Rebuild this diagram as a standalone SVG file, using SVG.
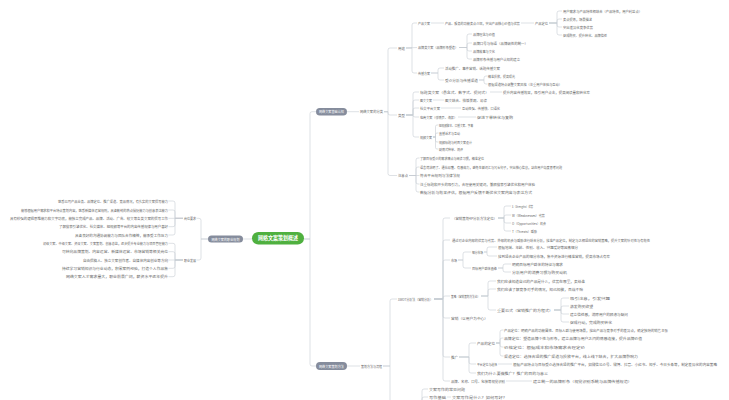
<svg xmlns="http://www.w3.org/2000/svg" width="729" height="400" viewBox="0 0 729 400">
<style>
.c{fill:none;stroke:#c8ccd3;stroke-width:0.6}
text{font-family:"Noto Sans CJK SC","Noto Sans",sans-serif;dominant-baseline:central}
.t{font-size:3.3px;fill:#666666}
.m{text-anchor:middle}
.g{fill:#858c9c}
.w{fill:#ffffff;font-size:3.2px}
</style>
<rect width="729" height="400" fill="#ffffff"/>
<g id="connectors">
<path class="c" d="M252 239 H243"/>
<path class="c" d="M208 239 H201 V220.3 Q201 218.3 199 218.3 H196.5"/>
<path class="c" d="M208 239 H201 V258 Q201 260 199 260 H196.5"/>
<path class="c" d="M183 218.3 H175 V203 Q175 201 173 201 H168.5"/>
<path class="c" d="M183 218.3 H175 V212 Q175 210 173 210 H168.5"/>
<path class="c" d="M183 218.3 H168.5"/>
<path class="c" d="M183 218.3 H175 V224.7 Q175 226.7 173 226.7 H168.5"/>
<path class="c" d="M183 218.3 H175 V233 Q175 235 173 235 H168.5"/>
<path class="c" d="M183 260 H175 V245.3 Q175 243.3 173 243.3 H168.5"/>
<path class="c" d="M183 260 H175 V253.7 Q175 251.7 173 251.7 H168.5"/>
<path class="c" d="M183 260 H168.5"/>
<path class="c" d="M183 260 H175 V266.3 Q175 268.3 173 268.3 H168.5"/>
<path class="c" d="M183 260 H175 V274.7 Q175 276.7 173 276.7 H168.5"/>
<path class="c" d="M304 239 H310 V113.7 Q310 111.7 312 111.7 H316"/>
<path class="c" d="M304 239 H310 V364 Q310 366 312 366 H316"/>
<path class="c" d="M347 111.7 H359"/>
<path class="c" d="M384 111.7 H388 V50 Q388 48 390 48 H397"/>
<path class="c" d="M384 111.7 H388 V113 Q388 115 390 115 H397"/>
<path class="c" d="M384 111.7 H388 V173.5 Q388 175.5 390 175.5 H397"/>
<path class="c" d="M406 48 H412 V25 Q412 23 414 23 H417"/>
<path class="c" d="M406 48 L417 47.5"/>
<path class="c" d="M406 48 H412 V71 Q412 73 414 73 H417"/>
<path class="c" d="M431 23 H444"/>
<path class="c" d="M521 23 H534"/>
<path class="c" d="M549 23 H557 V13 Q557 11 559 11 H562"/>
<path class="c" d="M549 23 H557 V21 Q557 19 559 19 H562"/>
<path class="c" d="M549 23 H557 V25 Q557 27 559 27 H562"/>
<path class="c" d="M549 23 H557 V33 Q557 35 559 35 H562"/>
<path class="c" d="M459 47.5 H467 V36 Q467 34 469 34 H472"/>
<path class="c" d="M459 47.5 H467 V45 Q467 43 469 43 H472"/>
<path class="c" d="M459 47.5 H467 V49 Q467 51 469 51 H472"/>
<path class="c" d="M459 47.5 H467 V57 Q467 59 469 59 H472"/>
<path class="c" d="M431 73 H438 V70 Q438 68 440 68 H444"/>
<path class="c" d="M431 73 H438 V78 Q438 80 440 80 H444"/>
<path class="c" d="M479 80 H484 V78 Q484 76 486 76 H487.5"/>
<path class="c" d="M479 80 H484 V82 Q484 84 486 84 H487.5"/>
<path class="c" d="M406 115 H413 V94 Q413 92 415 92 H419"/>
<path class="c" d="M406 115 H413 V102 Q413 100 415 100 H419"/>
<path class="c" d="M406 115 H413 V110 Q413 108 415 108 H419"/>
<path class="c" d="M406 115 H413 Q413 117 415 117 H419"/>
<path class="c" d="M406 115 H413 V135 Q413 137 415 137 H419"/>
<path class="c" d="M490 92 H502"/>
<path class="c" d="M433 100 H444"/>
<path class="c" d="M441 108 H461"/>
<path class="c" d="M458 117 H476"/>
<path class="c" d="M433 137 H435.5 V126.5 Q435.5 125 437 125 H438.5"/>
<path class="c" d="M433 137 H435.5 V134.5 Q435.5 133 437 133 H438.5"/>
<path class="c" d="M433 137 H435.5 V140.5 Q435.5 142 437 142 H438.5"/>
<path class="c" d="M433 137 H435.5 V147.5 Q435.5 149 437 149 H438.5"/>
<path class="c" d="M409 175.5 H416 V160 Q416 158 418 158 H419.5"/>
<path class="c" d="M409 175.5 H416 V169 Q416 167 418 167 H419.5"/>
<path class="c" d="M409 175.5 H419.5"/>
<path class="c" d="M409 175.5 H416 V182 Q416 184 418 184 H419.5"/>
<path class="c" d="M409 175.5 H416 V190 Q416 192 418 192 H419.5"/>
<path class="c" d="M347 366 H360"/>
<path class="c" d="M383 366 H390 V301 Q390 299 392 299 H397"/>
<path class="c" d="M383 366 H390 V413 Q390 415 392 415 H397"/>
<path class="c" d="M416 415 H422 V391 Q422 389 424 389 H428"/>
<path class="c" d="M416 415 H422 V399 Q422 397 424 397 H428"/>
<path class="c" d="M447 397 H451"/>
<path class="c" d="M434 299 H443 V220 Q443 218 445 218 H450"/>
<path class="c" d="M434 299 H443 V242 Q443 240 445 240 H450"/>
<path class="c" d="M434 299 H443 V262 Q443 260 445 260 H450"/>
<path class="c" d="M434 299 H443 V298 Q443 296 445 296 H450"/>
<path class="c" d="M434 299 H443 V316 Q443 318 445 318 H450"/>
<path class="c" d="M434 299 H443 V355 Q443 357 445 357 H450"/>
<path class="c" d="M434 299 H443 V379 Q443 381 445 381 H450"/>
<path class="c" d="M498 218 H504 V208 Q504 206 506 206 H511"/>
<path class="c" d="M498 218 H504 V217 Q504 215 506 215 H511"/>
<path class="c" d="M498 218 H504 V221 Q504 223 506 223 H511"/>
<path class="c" d="M498 218 H504 V229 Q504 231 506 231 H511"/>
<path class="c" d="M458 260 H463 V254 Q463 252 465 252 H471"/>
<path class="c" d="M458 260 H463 V266 Q463 268 465 268 H471"/>
<path class="c" d="M484 252 H487 V249 Q487 247 489 247 H497"/>
<path class="c" d="M484 252 H487 V254 Q487 256 489 256 H497"/>
<path class="c" d="M498 268 H503 V266 Q503 264 505 264 H511"/>
<path class="c" d="M498 268 H503 V270 Q503 272 505 272 H511"/>
<path class="c" d="M481 296 H488 V283 Q488 281 490 281 H496"/>
<path class="c" d="M481 296 H488 V291 Q488 289 490 289 H496"/>
<path class="c" d="M481 296 H488 V308 Q488 310 490 310 H496"/>
<path class="c" d="M554 310 H561 V300 Q561 298 563 298 H569"/>
<path class="c" d="M554 310 H561 V308 Q561 306 563 306 H569"/>
<path class="c" d="M554 310 H561 V312 Q561 314 563 314 H569"/>
<path class="c" d="M554 310 H561 V320 Q561 322 563 322 H569"/>
<path class="c" d="M459 357 H469 V345 Q469 343 471 343 H476"/>
<path class="c" d="M459 357 H469 V362 Q469 364 471 364 H476"/>
<path class="c" d="M459 357 H469 V371 Q469 373 471 373 H476"/>
<path class="c" d="M496 343 H500 V332 Q500 330 502 330 H503.5"/>
<path class="c" d="M496 343 H500 V340 Q500 338 502 338 H503.5"/>
<path class="c" d="M496 343 H500 V345 Q500 347 502 347 H503.5"/>
<path class="c" d="M496 343 H500 V354 Q500 356 502 356 H503.5"/>
<path class="c" d="M498 364 H512"/>
<path class="c" d="M506 381 H532"/>
</g>
<g id="root"><rect x="252" y="232" width="52" height="12.5" rx="6.25" fill="#4fb03f"/><text x="278" y="238.3" class="m" font-size="5.4" font-weight="bold" fill="#ffffff" textLength="40" lengthAdjust="spacingAndGlyphs">网络文案策划概述</text></g>
<g id="career"><rect x="208" y="235.5" width="35" height="7" rx="3.5" class="g"/><text x="225.5" y="239" class="w m" textLength="28" lengthAdjust="spacingAndGlyphs">网络文案的职业规划</text></g>
<g id="req"><text x="184" y="218.3" class="t" textLength="12" lengthAdjust="spacingAndGlyphs">岗位要求</text></g>
<g id="req1"><text x="58" y="201" class="t" textLength="110" lengthAdjust="spacingAndGlyphs">熟悉公司产品业务、品牌定位、推广渠道、竞品情况，有扎实的文案撰写能力</text></g>
<g id="req2"><text x="21" y="210" class="t" textLength="147" lengthAdjust="spacingAndGlyphs">能够根据用户需求和平台特点策划内容，熟悉新媒体运营规则，具备敏锐的热点捕捉能力与创意表达能力</text></g>
<g id="req3"><text x="10" y="218.3" class="t" textLength="158" lengthAdjust="spacingAndGlyphs">具有较强的逻辑思维能力和文字功底，能独立完成产品、品牌、活动、广告、软文等各类文案的撰写工作</text></g>
<g id="req4"><text x="59" y="226.7" class="t" textLength="109" lengthAdjust="spacingAndGlyphs">了解搜索引擎优化、社交媒体、短视频等平台的内容传播规律与用户喜好</text></g>
<g id="req5"><text x="75" y="235" class="t" textLength="93" lengthAdjust="spacingAndGlyphs">具备良好的沟通协调能力与团队合作精神，能承受工作压力</text></g>
<g id="dev"><text x="184" y="260" class="t" textLength="12" lengthAdjust="spacingAndGlyphs">职业发展</text></g>
<g id="dev1"><text x="43" y="243.3" class="t" textLength="125" lengthAdjust="spacingAndGlyphs">初级文案、中级文案、资深文案、文案策划、创意总监，逐步提升专业能力与项目管理能力</text></g>
<g id="dev2"><text x="62" y="251.7" class="t" textLength="106" lengthAdjust="spacingAndGlyphs">可转向品牌策划、内容运营、新媒体运营、市场营销等相关岗位</text></g>
<g id="dev3"><text x="83" y="260" class="t" textLength="85" lengthAdjust="spacingAndGlyphs">自由撰稿人、独立文案创作者、自媒体内容创业等方向</text></g>
<g id="dev4"><text x="62" y="268.3" class="t" textLength="106" lengthAdjust="spacingAndGlyphs">持续学习营销知识与行业动态，积累案例经验，打造个人作品集</text></g>
<g id="dev5"><text x="66" y="276.7" class="t" textLength="102" lengthAdjust="spacingAndGlyphs">网络文案人才需求量大，职业前景广阔，薪资水平逐年提升</text></g>
<g id="basic"><rect x="316" y="108" width="31" height="7.5" rx="3.75" class="g"/><text x="331.5" y="111.8" class="w m" textLength="25" lengthAdjust="spacingAndGlyphs">网络文案基础认知</text></g>
<g id="t0"><text x="360" y="111.7" class="t" textLength="23" lengthAdjust="spacingAndGlyphs">网络文案的分类</text></g>
<g id="t1"><text x="398" y="48" class="t" textLength="7" lengthAdjust="spacingAndGlyphs">用途</text></g>
<g id="t1a"><text x="418" y="23" class="t" textLength="12" lengthAdjust="spacingAndGlyphs">产品文案</text></g>
<g id="t1a1"><text x="445" y="23" class="t" textLength="75" lengthAdjust="spacingAndGlyphs">产品、服务的功能卖点介绍，突出产品核心价值与优势</text></g>
<g id="t1a2"><text x="535" y="23" class="t" textLength="13" lengthAdjust="spacingAndGlyphs">产品定位</text></g>
<g id="t1a2a"><text x="563" y="11" class="t" textLength="79" lengthAdjust="spacingAndGlyphs">用户需求与产品特性相结合（产品特性，用户利益点）</text></g>
<g id="t1a2b"><text x="563" y="19" class="t" textLength="29" lengthAdjust="spacingAndGlyphs">卖点提炼，场景描述</text></g>
<g id="t1a2c"><text x="563" y="27" class="t" textLength="30" lengthAdjust="spacingAndGlyphs">突出差异化竞争优势</text></g>
<g id="t1a2d"><text x="563" y="35" class="t" textLength="44" lengthAdjust="spacingAndGlyphs">促成购买、提升转化、品牌信任</text></g>
<g id="t1b"><text x="418" y="47.5" class="t" textLength="40" lengthAdjust="spacingAndGlyphs">品牌类文案（品牌形象塑造）</text></g>
<g id="t1b1"><text x="473" y="34" class="t" textLength="22" lengthAdjust="spacingAndGlyphs">品牌理念与价值</text></g>
<g id="t1b2"><text x="473" y="43" class="t" textLength="55" lengthAdjust="spacingAndGlyphs">品牌口号与标语（品牌调性的统一）</text></g>
<g id="t1b3"><text x="473" y="51" class="t" textLength="22" lengthAdjust="spacingAndGlyphs">品牌故事与文化</text></g>
<g id="t1b4"><text x="473" y="59" class="t" textLength="47" lengthAdjust="spacingAndGlyphs">品牌形象传播与用户认知的建立</text></g>
<g id="t1c"><text x="418" y="73" class="t" textLength="12" lengthAdjust="spacingAndGlyphs">传播方案</text></g>
<g id="t1c1"><text x="445" y="68" class="t" textLength="55" lengthAdjust="spacingAndGlyphs">活动推广、事件营销、话题传播文案</text></g>
<g id="t1c2"><text x="445" y="80" class="t" textLength="33" lengthAdjust="spacingAndGlyphs">受众分析与传播渠道</text></g>
<g id="t1c2a"><text x="488" y="76" class="t" textLength="27" lengthAdjust="spacingAndGlyphs">精准投放，提高曝光</text></g>
<g id="t1c2b"><text x="488" y="84" class="t" textLength="74" lengthAdjust="spacingAndGlyphs">根据渠道特点调整文案风格（注重用户体验与互动）</text></g>
<g id="t2"><text x="398" y="115" class="t" textLength="7" lengthAdjust="spacingAndGlyphs">类型</text></g>
<g id="t2a"><text x="420" y="92" class="t" textLength="69" lengthAdjust="spacingAndGlyphs">标题类文案（悬念式、数字式、提问式）</text></g>
<g id="t2a1"><text x="503" y="92" class="t" textLength="87" lengthAdjust="spacingAndGlyphs">提升内容传播效果，吸引用户点击，提高阅读量和转化率</text></g>
<g id="t2b"><text x="420" y="100" class="t" textLength="12" lengthAdjust="spacingAndGlyphs">图文文案</text></g>
<g id="t2b1"><text x="445" y="100" class="t" textLength="42" lengthAdjust="spacingAndGlyphs">图文结合、排版美观、易读</text></g>
<g id="t2c"><text x="420" y="108" class="t" textLength="20" lengthAdjust="spacingAndGlyphs">社交平台文案</text></g>
<g id="t2c1"><text x="462" y="108" class="t" textLength="38" lengthAdjust="spacingAndGlyphs">互动性强、传播快、口语化</text></g>
<g id="t2d"><text x="420" y="117" class="t" textLength="37" lengthAdjust="spacingAndGlyphs">电商文案（详情页、海报）</text></g>
<g id="t2d1"><text x="477" y="117" class="t" textLength="36" lengthAdjust="spacingAndGlyphs">促进下单转化与复购</text></g>
<g id="t2e"><text x="420" y="137" class="t" textLength="12" lengthAdjust="spacingAndGlyphs">视频文案</text></g>
<g id="t2e1"><text x="439" y="125" class="t" textLength="34" lengthAdjust="spacingAndGlyphs">短视频脚本、口播文案、字幕</text></g>
<g id="t2e2"><text x="439" y="133" class="t" textLength="21" lengthAdjust="spacingAndGlyphs">直播话术与互动</text></g>
<g id="t2e3"><text x="439" y="142" class="t" textLength="33" lengthAdjust="spacingAndGlyphs">视频标题与封面文案设计</text></g>
<g id="t2e4"><text x="439" y="149" class="t" textLength="24" lengthAdjust="spacingAndGlyphs">剧情式种草、测评</text></g>
<g id="t3"><text x="398" y="175.5" class="t" textLength="10" lengthAdjust="spacingAndGlyphs">注意点</text></g>
<g id="t3a"><text x="420" y="158" class="t" textLength="64" lengthAdjust="spacingAndGlyphs">了解目标受众的需求痛点与阅读习惯，精准定位</text></g>
<g id="t3b"><text x="420" y="167" class="t" textLength="142" lengthAdjust="spacingAndGlyphs">语言简洁明了、通俗易懂、有感染力，避免生僻词汇与冗长句子，突出核心信息，站在用户角度思考问题</text></g>
<g id="t3c"><text x="420" y="175.5" class="t" textLength="40" lengthAdjust="spacingAndGlyphs">符合平台规则与法律法规</text></g>
<g id="t3d"><text x="420" y="184" class="t" textLength="115" lengthAdjust="spacingAndGlyphs">注重标题和开头的吸引力，合理使用关键词，兼顾搜索引擎优化和用户体验</text></g>
<g id="t3e"><text x="420" y="192" class="t" textLength="112" lengthAdjust="spacingAndGlyphs">数据分析与效果评估，根据用户反馈不断优化文案内容与表达方式</text></g>
<g id="plan"><rect x="316" y="362" width="31" height="8" rx="4" class="g"/><text x="331.5" y="366" class="w m" textLength="25" lengthAdjust="spacingAndGlyphs">网络文案策划方法</text></g>
<g id="b0"><text x="361" y="366" class="t" textLength="21" lengthAdjust="spacingAndGlyphs">策划方法与流程</text></g>
<g id="b1"><text x="398" y="299" class="t" textLength="35" lengthAdjust="spacingAndGlyphs">SWOT分析法（营销分析）</text></g>
<g id="b1a"><text x="452" y="218" class="t" textLength="45" lengthAdjust="spacingAndGlyphs">（营销策划4P分析方法定位）</text></g>
<g id="b1a1"><text x="512" y="206" class="t" textLength="21" lengthAdjust="spacingAndGlyphs">S（Strengths）优势</text></g>
<g id="b1a2"><text x="512" y="215" class="t" textLength="33" lengthAdjust="spacingAndGlyphs">W（Weaknesses）劣势</text></g>
<g id="b1a3"><text x="512" y="223" class="t" textLength="34" lengthAdjust="spacingAndGlyphs">O（Opportunities）机会</text></g>
<g id="b1a4"><text x="512" y="231" class="t" textLength="25" lengthAdjust="spacingAndGlyphs">T（Threats）威胁</text></g>
<g id="b1b"><text x="452" y="240" class="t" textLength="198" lengthAdjust="spacingAndGlyphs">通过对企业内部的优势与劣势、外部的机会与威胁进行综合分析，找准产品定位，制定与之相适应的营销策略，提升文案的针对性与有效性</text></g>
<g id="b1c"><text x="451" y="260" class="t" textLength="6" lengthAdjust="spacingAndGlyphs">市场</text></g>
<g id="b1c1"><text x="472" y="252" class="t" textLength="11" lengthAdjust="spacingAndGlyphs">细分市场</text></g>
<g id="b1c1a"><text x="498" y="247" class="t" textLength="80" lengthAdjust="spacingAndGlyphs">根据地域、年龄、性别、收入、兴趣爱好等因素细分</text></g>
<g id="b1c1b"><text x="498" y="256" class="t" textLength="112" lengthAdjust="spacingAndGlyphs">找到适合企业产品的细分市场，集中资源进行精准营销，提高市场占有率</text></g>
<g id="b1c2"><text x="472" y="268" class="t" textLength="25" lengthAdjust="spacingAndGlyphs">目标用户群体画像</text></g>
<g id="b1c2a"><text x="512" y="264" class="t" textLength="51" lengthAdjust="spacingAndGlyphs">明确目标用户群体的特征与需求</text></g>
<g id="b1c2b"><text x="512" y="272" class="t" textLength="55" lengthAdjust="spacingAndGlyphs">分析用户的消费习惯与购买动机</text></g>
<g id="b1d"><text x="451" y="296" class="t" textLength="29" lengthAdjust="spacingAndGlyphs">策略（营销策划方法论）</text></g>
<g id="b1d1"><text x="497" y="281" class="t" textLength="88" lengthAdjust="spacingAndGlyphs">我们应该知道自己的产品是什么，优势在哪里，卖给谁</text></g>
<g id="b1d2"><text x="497" y="289" class="t" textLength="86" lengthAdjust="spacingAndGlyphs">我们应该了解竞争对手的情况，知己知彼，百战不殆</text></g>
<g id="b1d3"><text x="497" y="310" class="t" textLength="56" lengthAdjust="spacingAndGlyphs">重要公式（营销推广的方程式）</text></g>
<g id="b1d3a"><text x="570" y="298" class="t" textLength="40" lengthAdjust="spacingAndGlyphs">吸引注意，引发兴趣</text></g>
<g id="b1d3b"><text x="570" y="306" class="t" textLength="23" lengthAdjust="spacingAndGlyphs">激发购买欲望</text></g>
<g id="b1d3c"><text x="570" y="314" class="t" textLength="58" lengthAdjust="spacingAndGlyphs">建立信任感，消除用户的顾虑与疑问</text></g>
<g id="b1d3d"><text x="570" y="322" class="t" textLength="42" lengthAdjust="spacingAndGlyphs">促成行动，完成购买转化</text></g>
<g id="b1e"><text x="451" y="318" class="t" textLength="37" lengthAdjust="spacingAndGlyphs">营销（以用户为中心）</text></g>
<g id="b1f"><text x="451" y="357" class="t" textLength="7" lengthAdjust="spacingAndGlyphs">推广</text></g>
<g id="b1f1"><text x="477" y="343" class="t" textLength="18" lengthAdjust="spacingAndGlyphs">产品的定位</text></g>
<g id="b1f1a"><text x="504" y="330" class="t" textLength="164" lengthAdjust="spacingAndGlyphs">产品定位：明确产品的功能属性、目标人群与使用场景，找出产品与竞争对手的差异点，确定独特的销售主张</text></g>
<g id="b1f1b"><text x="504" y="338" class="t" textLength="138" lengthAdjust="spacingAndGlyphs">品牌定位：塑造品牌个性与形象，建立品牌与用户之间的情感连接，提升品牌价值</text></g>
<g id="b1f1c"><text x="504" y="347" class="t" textLength="81" lengthAdjust="spacingAndGlyphs">价格定位：根据成本和市场需求合理定价</text></g>
<g id="b1f1d"><text x="504" y="356" class="t" textLength="134" lengthAdjust="spacingAndGlyphs">渠道定位：选择合适的推广渠道与投放平台，线上线下结合，扩大品牌影响力</text></g>
<g id="b1f2"><text x="477" y="364" class="t" textLength="20" lengthAdjust="spacingAndGlyphs">平台定位与选择</text></g>
<g id="b1f2a"><text x="513" y="364" class="t" textLength="204" lengthAdjust="spacingAndGlyphs">根据产品特点与目标受众选择合适的推广平台，如微信公众号、微博、抖音、小红书、知乎、今日头条等，制定差异化的内容策略</text></g>
<g id="b1f3"><text x="477" y="373" class="t" textLength="71" lengthAdjust="spacingAndGlyphs">我们为什么要做推广？推广的目的与意义</text></g>
<g id="b1g"><text x="451" y="381" class="t" textLength="54" lengthAdjust="spacingAndGlyphs">品牌、名称、口号、包装等视觉识别</text></g>
<g id="b1g1"><text x="533" y="381" class="t" textLength="99" lengthAdjust="spacingAndGlyphs">建立统一的品牌形象（视觉识别系统与品牌传播规范）</text></g>
<g id="b2a"><text x="429" y="389" class="t" textLength="36" lengthAdjust="spacingAndGlyphs">文案写作的常见问题</text></g>
<g id="b2b"><text x="429" y="397" class="t" textLength="17" lengthAdjust="spacingAndGlyphs">写作基础</text></g>
<g id="b2b1"><text x="452" y="397" class="t" textLength="55" lengthAdjust="spacingAndGlyphs">文案写作是什么？如何写好？</text></g>
</svg>
